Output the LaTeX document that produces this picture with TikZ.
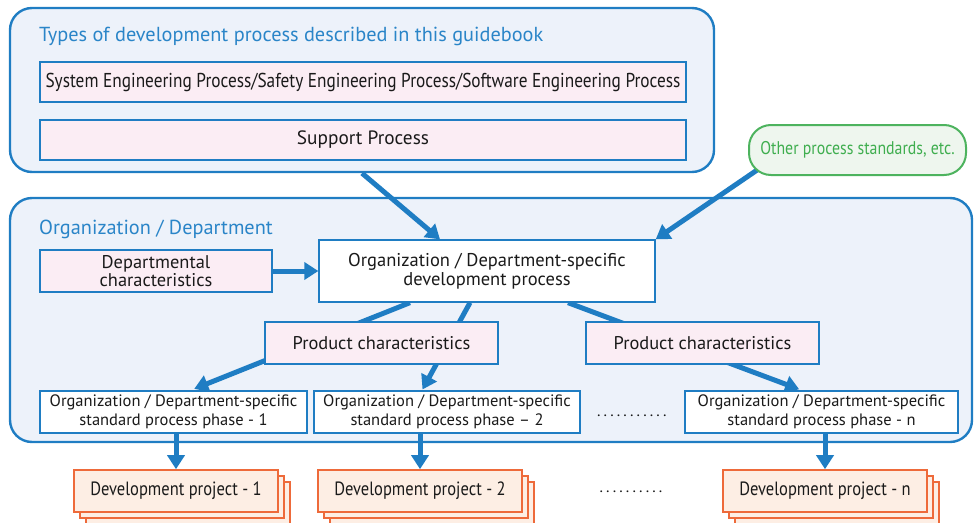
\documentclass[tikz,border=0pt]{standalone}
\usepackage{fontspec}
\setmainfont{PT Sans}
\newfontfamily\narrowfont[FakeStretch=0.86]{PT Sans}
\usepackage{xcolor}
\usetikzlibrary{arrows.meta, positioning, shadows}
\definecolor{lineblue}{HTML}{1F7DC3}
\definecolor{titleblue}{HTML}{2A85C8}
\definecolor{frameblue}{HTML}{EDF2FA}
\definecolor{pinkfill}{HTML}{FBEDF4}
\definecolor{greenline}{HTML}{4DB35E}
\definecolor{greenfill}{HTML}{EEF6EE}
\definecolor{greentext}{HTML}{3FAE4F}
\definecolor{projline}{HTML}{EE6A3A}
\definecolor{projfill}{HTML}{FDEEE4}
\definecolor{ink}{HTML}{1A1A1A}
\pgfdeclarelayer{frames}
\pgfdeclarelayer{flows}
\pgfsetlayers{frames,flows,main}
\newcommand{\dotrow}[1]{\hbox to #1{\leaders\hbox to 6.6pt{\hss.\hss}\hfill}}
\tikzset{
  frame/.style={rectangle, draw=lineblue, fill=frameblue, line width=2.4pt,
                rounded corners=22pt, inner sep=0pt},
  frametitle/.style={anchor=west, text=titleblue, inner sep=0pt,
                     font=\fontsize{20.3}{23}\selectfont},
  pinkbox/.style={rectangle, draw=lineblue, fill=pinkfill, line width=1.3pt,
                  text=ink, align=center, inner sep=0pt, minimum height=42pt,
                  font=\fontsize{18.4}{18}\selectfont},
  whitebox/.style={pinkbox, fill=white},
  phasebox/.style={whitebox, font=\fontsize{16.5}{18.5}\selectfont},
  otherbox/.style={rectangle, draw=greenline, fill=greenfill, line width=2pt,
                   rounded corners=22pt, text=greentext, inner sep=0pt,
                   font=\narrowfont\fontsize{18.4}{20}\selectfont},
  projbox/.style={rectangle, draw=projline, fill=projfill, line width=1.6pt,
                  text=ink, inner sep=0pt, minimum width=204pt, minimum height=42pt,
                  font=\narrowfont\fontsize{19.2}{20}\selectfont,
                  copy shadow={shadow xshift=12pt, shadow yshift=-12pt,
                               draw=projline, fill=projfill, line width=1.6pt},
                  copy shadow={shadow xshift=6pt, shadow yshift=-6pt,
                               draw=projline, fill=projfill, line width=1.6pt}},
  flow/.style={-{Triangle[length=14pt, width=17pt]}, line width=5pt, draw=lineblue},
  etc/.style={text=ink, inner sep=0pt, font=\fontsize{16}{18}\selectfont}
}

\begin{document}
\begin{tikzpicture}[x=1pt, y=-1pt]
  \useasboundingbox (0,0) rectangle (974,522);

  % frames
  \begin{pgfonlayer}{frames}
    \node[frame, minimum width=704pt, minimum height=164pt] (guide) at (362,90) {};
    \node[frame, minimum width=962pt, minimum height=244pt] (org) at (491,320) {};
  \end{pgfonlayer}

  % guidebook processes
  \node[frametitle] (guidetitle) at (39,36) {Types of development process described in this guidebook};
  \node[pinkbox, minimum width=646pt, minimum height=40pt,
        font=\narrowfont\fontsize{20.1}{20}\selectfont] (engproc) at (363,82)
    {System Engineering Process/Safety Engineering Process/Software Engineering Process};
  \node[pinkbox, minimum width=646pt, minimum height=40pt,
        font=\fontsize{19.3}{20}\selectfont] (support) at (363,140) {Support Process};
  \node[otherbox, minimum width=217pt, minimum height=50pt] (other) at (857.5,150) {Other process standards, etc.};

  % organization / department
  \node[frametitle] (orgtitle) at (39,229) {Organization / Department};
  \node[pinkbox, minimum width=232pt] (dept) at (156,271) {Departmental\\characteristics};
  \node[whitebox, minimum width=336pt, minimum height=62pt,
        font=\fontsize{18.5}{19}\selectfont] (dev) at (487,271)
    {Organization / Department-specific\\development process};
  \node[pinkbox, minimum width=233pt] (prod1) at (381.5,343) {Product characteristics};
  \node[pinkbox, minimum width=233pt] (prod2) at (702.5,343) {Product characteristics};
  \node[phasebox, minimum width=267pt] (phase1) at (173.5,412)
    {Organization / Department-specific\\standard process phase - 1};
  \node[phasebox, minimum width=266pt] (phase2) at (447,412)
    {Organization / Department-specific\\standard process phase -- 2};
  \node[phasebox, minimum width=273pt] (phasen) at (821.5,412)
    {Organization / Department-specific\\standard process phase - n};
  \node[etc] (phasedots) at (632,416) {\dotrow{73pt}};

  % projects
  \node[projbox] (proj1) at (176,491) {Development project - 1};
  \node[projbox] (proj2) at (420,491) {Development project - 2};
  \node[projbox] (projn) at (825,491) {Development project - n};
  \node[etc] (projdots) at (631,492) {\dotrow{66pt}};

  \begin{pgfonlayer}{flows}
    \draw[flow] (guide.south) -- ([xshift=-47pt]dev.north);
    \draw[flow] ([xshift=15pt, yshift=10pt]other.south west) -- (dev.north east);
    \draw[flow] (dept.east) -- (dev.west);
    \draw[flow, shorten >=4pt] ([xshift=-77pt]dev.south) -- ([xshift=17pt]phase1.north);
    \draw[flow, shorten >=1pt] ([xshift=-17pt]dev.south) -- ([xshift=-25pt]phase2.north);
    \draw[flow, shorten >=3pt] ([xshift=81pt]dev.south) -- ([xshift=-19.5pt]phasen.north);
    \foreach \p/\q in {phase1/proj1, phase2/proj2, phasen/projn}
      \draw[flow] (\q.north |- \p.south) -- (\q.north);
  \end{pgfonlayer}
\end{tikzpicture}
\end{document}
